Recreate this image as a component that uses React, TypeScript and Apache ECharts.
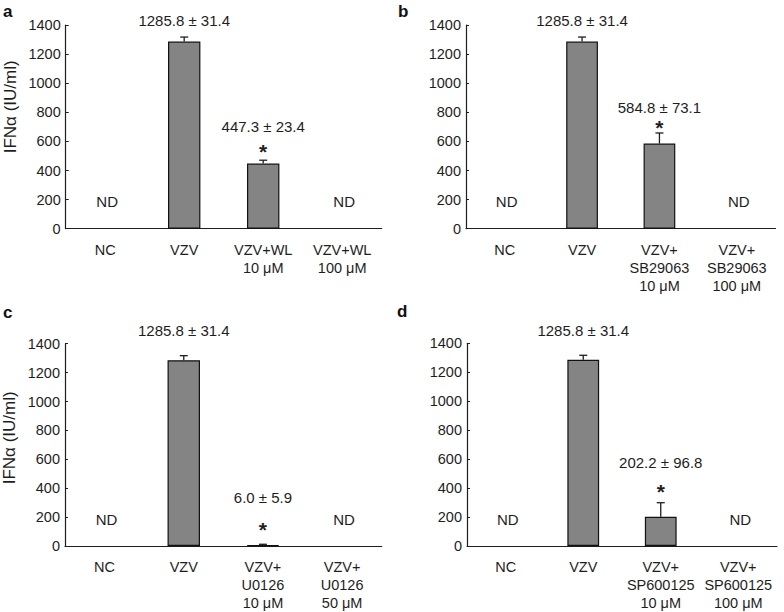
import React, { useEffect, useRef } from "react";
import * as echarts from "echarts";

// ---------- data ----------
const categoriesA = ["NC", "VZV", "VZV+WL\n10 μM", "VZV+WL\n100 μM"];
const valuesA = [null, 1285.8, 447.3, null];
const errorsA = [null, 31.4, 23.4, null];
const significantA = [false, false, true, false];

const categoriesB = ["NC", "VZV", "VZV+\nSB29063\n10 μM", "VZV+\nSB29063\n100 μM"];
const valuesB = [null, 1285.8, 584.8, null];
const errorsB = [null, 31.4, 73.1, null];
const significantB = [false, false, true, false];

const categoriesC = ["NC", "VZV", "VZV+\nU0126\n10 μM", "VZV+\nU0126\n50 μM"];
const valuesC = [null, 1285.8, 6.0, null];
const errorsC = [null, 31.4, 5.9, null];
const significantC = [false, false, true, false];

const categoriesD = ["NC", "VZV", "VZV+\nSP600125\n10 μM", "VZV+\nSP600125\n100 μM"];
const valuesD = [null, 1285.8, 202.2, null];
const errorsD = [null, 31.4, 96.8, null];
const significantD = [false, false, true, false];

const yTicks = { min: 0, max: 1400, interval: 200 };
const yAxisTitle = "IFNα (IU/ml)";
const panelLetters = ["a", "b", "c", "d"];

// ---------- layout (pixels) ----------
const grids = [
  { left: 65.7, top: 25, width: 316, height: 203.7 },
  { left: 466, top: 25, width: 309.5, height: 203.7 },
  { left: 65, top: 343.7, width: 316.7, height: 202.3 },
  { left: 467, top: 343.3, width: 310, height: 202.7 },
];
// lift of the "mean ± sd" text above the error-bar top, per category
const textLift = [
  [null, 17, 33.5, null],
  [null, 17, 25.5, null],
  [null, 24.7, 46.6, null],
  [null, 24.6, 40, null],
];
const starLift = [8.5, 5, 15, 11.7];
const ndLift = 27;
const letterPos = [
  { left: 3, top: 3 },
  { left: 398, top: 3 },
  { left: 3, top: 304 },
  { left: 397, top: 303 },
];
const yNameShift = [40, 0, 14, 0];

const FONT = 'Arial, "Liberation Sans", Helvetica, sans-serif';
const INK = "#1e1e1e";

const panels = [
  { cats: categoriesA, vals: valuesA, errs: errorsA, sig: significantA, yName: true },
  { cats: categoriesB, vals: valuesB, errs: errorsB, sig: significantB, yName: false },
  { cats: categoriesC, vals: valuesC, errs: errorsC, sig: significantC, yName: true },
  { cats: categoriesD, vals: valuesD, errs: errorsD, sig: significantD, yName: false },
];

function buildOption() {
  const xAxis: any[] = [];
  const yAxis: any[] = [];
  const series: any[] = [];
  const title: any[] = [];

  panels.forEach((p, i) => {
    title.push({
      text: panelLetters[i],
      left: letterPos[i].left,
      top: letterPos[i].top,
      padding: 0,
      textStyle: { fontFamily: FONT, fontSize: 17, fontWeight: "bold", color: "#111" },
    });
    xAxis.push({
      type: "category",
      gridIndex: i,
      data: p.cats,
      boundaryGap: true,
      axisLine: { lineStyle: { color: INK, width: 1.2 } },
      axisTick: { inside: true, length: 3, lineStyle: { color: INK } },
      axisLabel: {
        interval: 0,
        margin: 12,
        fontFamily: FONT,
        fontSize: 14.5,
        lineHeight: 18,
        color: INK,
      },
      splitLine: { show: false },
    });
    yAxis.push({
      type: "value",
      gridIndex: i,
      min: yTicks.min,
      max: yTicks.max,
      interval: yTicks.interval,
      name: p.yName ? yAxisTitle : "",
      nameLocation: "middle",
      nameGap: 47,
      nameTextStyle: {
        fontFamily: FONT,
        fontSize: 17,
        color: INK,
        padding: [0, 0, 0, yNameShift[i]],
      },
      axisLine: { show: true, lineStyle: { color: INK, width: 1.2 } },
      axisTick: { show: true, inside: true, length: 3, lineStyle: { color: INK } },
      axisLabel: {
        margin: 5,
        fontFamily: FONT,
        fontSize: 14.5,
        color: INK,
        formatter: (v: number) => String(v),
      },
      splitLine: { show: false },
    });

    // bars
    series.push({
      type: "bar",
      xAxisIndex: i,
      yAxisIndex: i,
      barWidth: "41%",
      data: p.vals.map((v) => (v == null ? "-" : v)),
      itemStyle: { color: "#848484", borderColor: "#111", borderWidth: 1.2 },
      silent: true,
    });

    // error bars (upper whisker)
    const errData: any[] = [];
    p.vals.forEach((v, k) => {
      if (v != null && p.errs[k] != null) errData.push([k, v, p.errs[k]]);
    });
    series.push({
      type: "custom",
      xAxisIndex: i,
      yAxisIndex: i,
      data: errData,
      encode: { x: 0, y: 1 },
      z: 3,
      silent: true,
      renderItem: (params: any, api: any) => {
        const k = api.value(0);
        const v = api.value(1);
        const e = api.value(2);
        const base = api.coord([k, v]);
        const top = api.coord([k, v + e]);
        const cap = 4;
        const style = { stroke: INK, lineWidth: 1.3 };
        return {
          type: "group",
          children: [
            { type: "line", shape: { x1: base[0], y1: base[1], x2: top[0], y2: top[1] }, style },
            { type: "line", shape: { x1: top[0] - cap, y1: top[1], x2: top[0] + cap, y2: top[1] }, style },
          ],
        };
      },
    });

    // annotations: mean ± sd and significance star
    const annData: any[] = [];
    p.vals.forEach((v, k) => {
      if (v != null && p.errs[k] != null) annData.push([k, v + (p.errs[k] as number), v, p.errs[k], p.sig[k] ? 1 : 0]);
    });
    series.push({
      type: "custom",
      xAxisIndex: i,
      yAxisIndex: i,
      data: annData,
      encode: { x: 0, y: 1 },
      z: 4,
      clip: false,
      silent: true,
      renderItem: (params: any, api: any) => {
        const k = api.value(0);
        const topVal = api.value(1);
        const v = api.value(2);
        const e = api.value(3);
        const sig = api.value(4);
        const pt = api.coord([k, topVal]);
        const children: any[] = [
          {
            type: "text",
            x: pt[0],
            y: pt[1] - (textLift[i][k] as number),
            style: {
              text: `${Number(v).toFixed(1)} ± ${Number(e).toFixed(1)}`,
              fontFamily: FONT,
              fontSize: 15,
              fill: INK,
              align: "center",
              verticalAlign: "middle",
            },
          },
        ];
        if (sig) {
          children.push({
            type: "text",
            x: pt[0],
            y: pt[1] - starLift[i],
            style: {
              text: "*",
              fontFamily: FONT,
              fontSize: 21,
              fontWeight: "bold",
              fill: INK,
              align: "center",
              verticalAlign: "middle",
            },
          });
        }
        return { type: "group", children };
      },
    });

    // ND labels for non-detected groups
    const ndData: any[] = [];
    p.vals.forEach((v, k) => {
      if (v == null) ndData.push([k, 0]);
    });
    series.push({
      type: "custom",
      xAxisIndex: i,
      yAxisIndex: i,
      data: ndData,
      encode: { x: 0, y: 1 },
      z: 4,
      clip: false,
      silent: true,
      renderItem: (params: any, api: any) => {
        const pt = api.coord([api.value(0), api.value(1)]);
        return {
          type: "text",
          x: pt[0] + 2,
          y: pt[1] - ndLift,
          style: {
            text: "ND",
            fontFamily: FONT,
            fontSize: 15,
            fill: INK,
            align: "center",
            verticalAlign: "middle",
          },
        };
      },
    });
  });

  return {
    animation: false,
    backgroundColor: "#ffffff",
    title,
    grid: grids.map((g) => ({ ...g, containLabel: false })),
    xAxis,
    yAxis,
    series,
  };
}

export default function App() {
  const ref = useRef<HTMLDivElement>(null);
  useEffect(() => {
    if (!ref.current) return;
    const chart = echarts.init(ref.current, null, { renderer: "svg" });
    chart.setOption(buildOption() as any);
    return () => chart.dispose();
  }, []);
  return (
    <div
      ref={ref}
      style={{ position: "absolute", left: 0, top: 0, width: 784, height: 612, background: "#fff" }}
    />
  );
}
